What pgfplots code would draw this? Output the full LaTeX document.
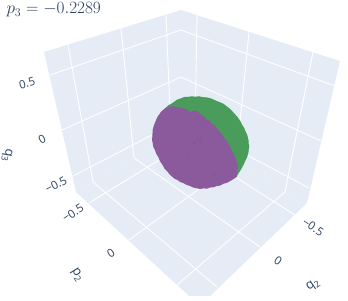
\documentclass[border=0pt]{standalone}
\usepackage{fontspec}
\setmainfont{Open Sans}
\usepackage{graphicx}
\usepackage{pgfplots}
\pgfplotsset{compat=1.18}
\definecolor{pane}{HTML}{E5ECF6}
\definecolor{txt}{HTML}{2A3F5F}
\definecolor{grn}{HTML}{4A9C5A}
\definecolor{pur}{HTML}{8A5A9C}
\pgfplotsset{gl/.style={white,line width=0.9bp,no markers,forget plot}}
\newcommand{\tk}{\color{txt}\fontsize{11.5}{13}\selectfont}
\newcommand{\lb}[2]{\color{txt}\fontsize{13}{14}\selectfont #1\raisebox{-0.22em}{\fontsize{9}{10}\selectfont #2}}
\begin{document}
\begin{tikzpicture}[x=1bp,y=1bp]
\useasboundingbox (0,0) rectangle (348,301);
\begin{axis}[at={(0,0)},anchor=south west,scale only axis,width=348bp,height=301bp,
 xmin=0,xmax=348,ymin=0,ymax=301,y dir=reverse,axis lines=none,clip=false,
 every node/.append style={inner sep=0pt}]
% panes
\addplot[fill=pane,draw=none,forget plot] coordinates {(44,52)(181,10)(181,130)(76,192)} --cycle;
\addplot[fill=pane,draw=none,forget plot] coordinates {(181,10)(340,61)(307,203)(181,130)} --cycle;
\addplot[fill=pane,draw=none,forget plot] coordinates {(76,192)(181,130)(307,203)(210,296)(189,296)} --cycle;
% left wall grid
\addplot[gl] coordinates {(68,45)(93,182)};
\addplot[gl] coordinates {(121,28)(134,158)};
\addplot[gl] coordinates {(166,15)(171,136)};
\addplot[gl] coordinates {(50,75)(181,30)};
\addplot[gl] coordinates {(62,130)(181,77)};
\addplot[gl] coordinates {(73,176)(181,120)};
% right wall grid
\addplot[gl] coordinates {(197,15)(195,138)};
\addplot[gl] coordinates {(249,32)(236,162)};
\addplot[gl] coordinates {(313,52)(285,192)};
\addplot[gl] coordinates {(181,30)(335,86)};
\addplot[gl] coordinates {(181,77)(321,141)};
\addplot[gl] coordinates {(181,120)(309,188)};
% floor grid
\addplot[gl] coordinates {(93,182)(217,287)};
\addplot[gl] coordinates {(134,158)(260,247)};
\addplot[gl] coordinates {(171,136)(295,215)};
\addplot[gl] coordinates {(285,192)(177,285)};
\addplot[gl] coordinates {(236,162)(129,240)};
\addplot[gl] coordinates {(195,138)(89,203)};
% point cloud outlines
\addplot[fill=grn,draw=grn,line width=1.2bp,line join=round,forget plot] coordinates {
(166,108.3)(169,105.6)(173,103.4)(177,100.4)(181.7,98.7)(185,97.4)(188,97.5)(191.5,96.9)(195,97.3)(199,96.9)(203,97.8)(207,98)(211.7,99.3)(215,100.9)(219,102.5)(223,104.2)(226.7,107)(230,109.6)(233.5,113.5)(237,117.3)(240,121.7)(241.5,125)(243.5,128)(245,131.6)(246.7,135)(247.3,138)(248,140.5)(248,143.5)(248.7,146.7)(248,150)(248,152)(247.2,154.5)(246.7,156.7)(245,160)(243.5,163.5)(242,166.4)(240,170)(238,173)(236,176.7)(200,150)} --cycle;
\addplot[fill=pur,draw=pur,line width=1.2bp,line join=round,forget plot] coordinates {
(166,108.3)(163.5,110.4)(161.5,112.2)(159.6,115)(158.3,116.7)(156.5,120.5)(155.5,123)(154.2,126.5)(153.3,130)(153,135)(152.7,140)(153.4,143.6)(154,147)(155.6,150)(156.7,153.3)(159,157)(160.5,161)(163,164.5)(165,168.3)(167.8,171)(170,174)(172.5,176.2)(175,178.3)(178,179.6)(180.5,181.5)(183.8,182.6)(186.7,184.3)(190,185.3)(193,186.8)(196.5,187.6)(200,188.3)(203.5,187.8)(207,188)(210,186.9)(213.3,186.7)(216.5,185.4)(220,185)(223,183.2)(226.7,182.3)(231,179.9)(236,176.7)(236.4,171)(237.3,165)(235.6,160)(233.3,155)(230,148)(226.7,141.7)(224,138.4)(221,134)(218,130.8)(215,126.7)(212,124.3)(209.5,121.5)(206,119.6)(203.3,116.7)(200,114.5)(196.7,111.7)(193.5,111)(190,113.3)(188,111)(186.5,110)(183.3,109)(178,107.8)(173.3,106.7)} --cycle;
% faint overlapping points in the cloud
\addplot[only marks,mark=*,mark size=1.5bp,color=pur!92!black,opacity=0.2,forget plot] coordinates {(197,139)(200,141)(194,143)(214,174)(187,155)(208,123)};
% title and labels
\node[anchor=base west] at (axis cs:3,13.5) {\color{txt}\fontsize{18.8}{20}\selectfont $p_3 = -0.2289$};
\node[rotate=15] at (axis cs:27,83) {\tk 0.5};
\node[rotate=28] at (axis cs:42,139) {\tk 0};
\node[rotate=28] at (axis cs:56,185) {\tk −0.5};
\node[rotate=-100] at (axis cs:7,155) {\lb{q}{3}};
\node[rotate=33] at (axis cs:73,213) {\tk −0.5};
\node[rotate=33] at (axis cs:111,253) {\tk 0};
\node[rotate=-58] at (axis cs:77,275) {\lb{p}{2}};
\node[rotate=-33] at (axis cs:313,227) {\tk −0.5};
\node[rotate=-33] at (axis cs:278,261) {\tk 0};
\node[rotate=35] at (axis cs:313,285) {\lb{q}{2}};
\end{axis}
\end{tikzpicture}
\end{document}
